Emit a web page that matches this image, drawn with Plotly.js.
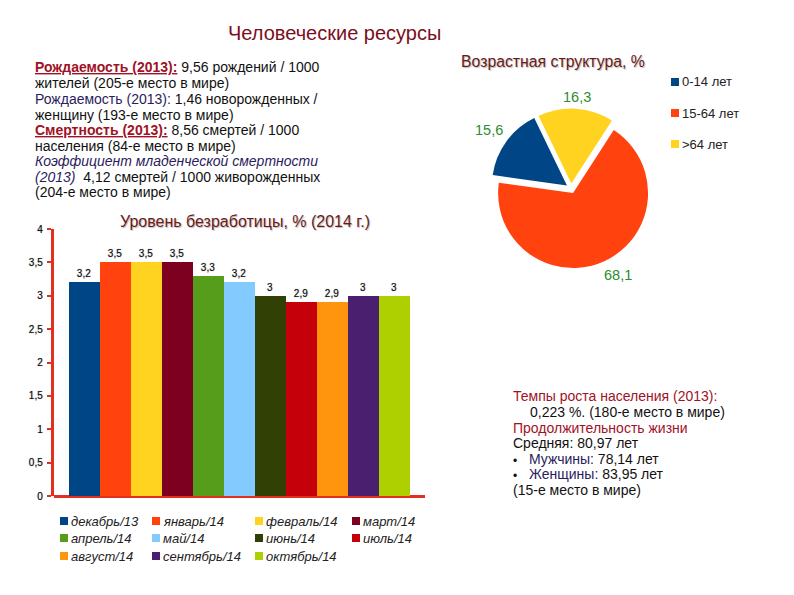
<!DOCTYPE html>
<html><head><meta charset="utf-8">
<script src="https://cdn.plot.ly/plotly-3.0.1.min.js"></script>
<style>html,body{margin:0;padding:0;background:#fff}</style></head>
<body><div id="chart" style="width:794px;height:595px"></div>
<script>
const months = ["декабрь/13","январь/14","февраль/14","март/14","апрель/14","май/14","июнь/14","июль/14","август/14","сентябрь/14","октябрь/14"];
const unemployment = [3.2,3.5,3.5,3.5,3.3,3.2,3,2.9,2.9,3,3];
const monthColors = ["#004586","#ff420e","#ffd320","#7e0021","#579d1c","#83caff","#314004","#c5000b","#ff950e","#4b1f6f","#aecf00"];
const ageLabels = ["0-14 лет","15-64 лет",">64 лет"];
const ageValues = [15.6,68.1,16.3];
const ageColors = ["#004586","#ff420e","#ffd320"];

const FONT = "Liberation Sans, Arial, sans-serif";
const RED = "#a01226", NAVY = "#2b1c5c", W = 794, H = 595;
const red = s => `<span style="text-decoration:underline;font-weight:bold;fill:${RED}">${s}</span>`;
const leftLines = [
  [33,67, red("Рождаемость (2013):")+" 9,56 рождений / 1000"],
  [33,83, "жителей (205-е место в мире)"],
  [33,99, `<span style="fill:${NAVY}">Рождаемость (2013):</span> 1,46 новорожденных /`],
  [33,115,"женщину (193-е место в мире)"],
  [33,130,red("Смертность (2013):")+" 8,56 смертей / 1000"],
  [33,146,"населения (84-е место в мире)"],
  [33,161,`<i><span style="fill:${NAVY}">Коэффициент младенческой смертности</span></i>`],
  [33,177,`<i><span style="fill:${NAVY}">(2013)</span></i>  4,12 смертей / 1000 живорожденных`],
  [33,192,"(204-е место в мире)"],
  [511,396,`<span style="fill:${RED}">Темпы роста населения (2013):</span>`],
  [528,412,"0,223 %. (180-е место в мире)"],
  [511,428,`<span style="fill:${RED}">Продолжительность жизни</span>`],
  [511,443,"Средняя: 80,97 лет"],
  [527,459,`<span style="fill:${NAVY}">Мужчины:</span> 78,14 лет`],
  [527,474,`<span style="fill:${NAVY}">Женщины:</span> 83,95 лет`],
  [511,490,"(15-е место в мире)"]
];
const px = (x,y,text,font) => ({xref:"paper",yref:"paper",x:x/W,y:1-y/H,text,showarrow:false,
  xanchor:"left",yanchor:"middle",align:"left",font:Object.assign({family:FONT},font)});
const SHADOW = "1px 1px 1px #bbb";
const annotations = leftLines.map(l => px(l[0],l[1],l[2],{size:14,color:"#111"}));
annotations.push(px(511,461,"•",{size:12,color:"#111"}), px(511,476,"•",{size:12,color:"#111"}));
annotations.push(px(226,33,"Человеческие ресурсы",{size:20,color:"#7a0f1e"}));
annotations.push(px(118,221,"Уровень безработицы, % (2014 г.)",{size:16,color:"#6b1a1a",shadow:SHADOW}));
annotations.push(px(459,62,"Возрастная структура, %",{size:15.8,color:"#6b1a1a",shadow:SHADOW}));

const shapes = [];
const legendKey = (x,y,color,text,font) => {
  shapes.push({type:"rect",xref:"paper",yref:"paper",x0:x/W,x1:(x+8)/W,y0:1-(y+4)/H,y1:1-(y-4)/H,fillcolor:color,line:{width:0}});
  annotations.push(px(x+9,y,text,font));
};
const legendCols = [60,152,255,352], legendRows = [521,538,556];
months.forEach((m,i)=>legendKey(legendCols[i%4],legendRows[Math.floor(i/4)],monthColors[i],`<i>${m}</i>`,{size:13,color:"#222"}));
const ageRows = [82,113,144];
ageLabels.forEach((a,i)=>legendKey(671,ageRows[i],ageColors[i],a,{size:13,color:"#222"}));

// pie value labels sit where the reference has them
const agePos = [[473,130],[602,275],[561,97]];
ageValues.forEach((v,i)=>annotations.push(px(agePos[i][0],agePos[i][1],String(v).replace(".",","),{size:14.5,color:"#2e8b2e"})));

const traces = months.map((m,i)=>({type:"bar",name:m,x:[m],y:[unemployment[i]],width:1,
  marker:{color:monthColors[i],line:{width:0}},texttemplate:"%{y}",textposition:"outside",cliponaxis:false,
  textfont:{family:FONT,size:10,color:"#111",shadow:"0 0 1px #777"},hoverinfo:"name+y"}));
traces.push({type:"pie",labels:ageLabels,values:ageValues,sort:false,direction:"counterclockwise",rotation:-82,
  pull:0.067,marker:{colors:ageColors,line:{width:0}},textinfo:"none",
  domain:{x:[491/W,651/W],y:[1-268.5/H,1-108.5/H]},automargin:false});

Plotly.newPlot("chart",traces,{
  width:W,height:H,margin:{l:0,r:0,t:0,b:0},paper_bgcolor:"#fff",plot_bgcolor:"#fff",
  separators:", ",barmode:"overlay",bargap:0,showlegend:false,
  font:{family:FONT},
  xaxis:{domain:[53.5/W,425/W],type:"category",categoryorder:"array",categoryarray:months,range:[-1,11],
    showticklabels:false,ticks:"",showgrid:false,zeroline:false,showline:false,fixedrange:true,anchor:"y"},
  yaxis:{domain:[1-496/H,1-229/H],range:[0,4],tickvals:[0,0.5,1,1.5,2,2.5,3,3.5,4],ticks:"outside",ticklen:4,tickwidth:2,tickcolor:"#e0301e",
    showline:true,linecolor:"#e0301e",linewidth:2.5,showgrid:false,zeroline:true,zerolinecolor:"#e0301e",zerolinewidth:2.5,
    tickfont:{size:10,color:"#111",shadow:"0 0 1px #777"},fixedrange:true,anchor:"x",ticklabelstandoff:2},
  annotations,shapes
},{displayModeBar:false});
</script></body></html>
